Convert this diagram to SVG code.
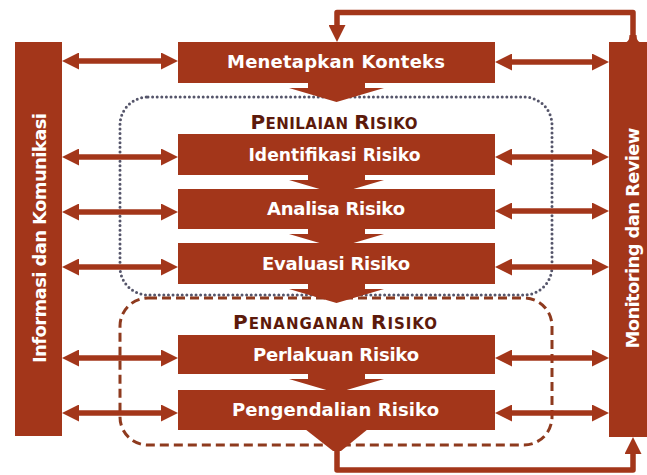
<svg xmlns="http://www.w3.org/2000/svg" width="647" height="475" viewBox="0 0 647 475">
  <defs>
    <style>
      .fill { fill: #A3361A; }
      .box { fill: #A3361A; }
      .lbl { font-family: "DejaVu Sans", "Liberation Sans", sans-serif; font-weight: bold; font-size: 18px; fill: #FFFFFF; text-anchor: middle; }
      .vlbl { font-family: "DejaVu Sans", "Liberation Sans", sans-serif; font-weight: bold; font-size: 18px; fill: #FFFFFF; text-anchor: middle; }
      .head { font-family: "DejaVu Sans", "Liberation Sans", sans-serif; font-weight: bold; fill: #5C1A0B; text-anchor: middle; }
      .big { font-size: 20px; }
      .small { font-size: 15px; }
      .conn { fill: none; stroke: #A3361A; stroke-width: 5.5; }
      .dotted { fill: none; stroke: #55556A; stroke-width: 3; stroke-dasharray: 0 4.6; stroke-linecap: round; }
      .dashed { fill: none; stroke: #8E3A1E; stroke-width: 3; stroke-dasharray: 9 5; }
    </style>
    <marker id="ah" viewBox="0 0 17 17" markerUnits="userSpaceOnUse" markerWidth="17" markerHeight="17" refX="7" refY="8.5" orient="auto-start-reverse">
      <path d="M0,0 L17,8.5 L0,17 Z" fill="#A3361A"/>
    </marker>
  </defs>

  <!-- group boundaries -->
  <g id="group-penilaian">
    <rect class="dotted" x="120" y="97" width="432" height="198" rx="28"/>
    <text class="head" x="334" y="129" textLength="167" lengthAdjust="spacing"><tspan class="big">P</tspan><tspan class="small">ENILAIAN </tspan><tspan class="big">R</tspan><tspan class="small">ISIKO</tspan></text>
  </g>
  <g id="group-penanganan">
    <rect class="dashed" x="120" y="298" width="432" height="147" rx="28"/>
    <text class="head" x="335" y="329" textLength="204" lengthAdjust="spacing"><tspan class="big">P</tspan><tspan class="small">ENANGANAN </tspan><tspan class="big">R</tspan><tspan class="small">ISIKO</tspan></text>
  </g>

  <!-- connectors -->
  <g id="connectors">
    <line class="conn" x1="72" y1="61" x2="168" y2="61" marker-start="url(#ah)" marker-end="url(#ah)"/>
    <line class="conn" x1="72" y1="157" x2="168" y2="157" marker-start="url(#ah)" marker-end="url(#ah)"/>
    <line class="conn" x1="72" y1="212" x2="168" y2="212" marker-start="url(#ah)" marker-end="url(#ah)"/>
    <line class="conn" x1="72" y1="267" x2="168" y2="267" marker-start="url(#ah)" marker-end="url(#ah)"/>
    <line class="conn" x1="72" y1="358" x2="168" y2="358" marker-start="url(#ah)" marker-end="url(#ah)"/>
    <line class="conn" x1="72" y1="413" x2="168" y2="413" marker-start="url(#ah)" marker-end="url(#ah)"/>

    <line class="conn" x1="505" y1="62" x2="599" y2="62" marker-start="url(#ah)" marker-end="url(#ah)"/>
    <line class="conn" x1="505" y1="157" x2="599" y2="157" marker-start="url(#ah)" marker-end="url(#ah)"/>
    <line class="conn" x1="505" y1="211" x2="599" y2="211" marker-start="url(#ah)" marker-end="url(#ah)"/>
    <line class="conn" x1="505" y1="267" x2="599" y2="267" marker-start="url(#ah)" marker-end="url(#ah)"/>
    <line class="conn" x1="505" y1="358" x2="599" y2="358" marker-start="url(#ah)" marker-end="url(#ah)"/>
    <line class="conn" x1="505" y1="413" x2="599" y2="413" marker-start="url(#ah)" marker-end="url(#ah)"/>

    <!-- feedback from monitoring to context -->
    <path class="conn" d="M633,44 V12.5 H337 V32" stroke-linejoin="round" marker-end="url(#ah)"/>
    <path class="fill" d="M623,43 Q629.5,43 629.5,35 L636.5,35 Q636.5,43 643,43 Z"/>
    <!-- from pengendalian to monitoring -->
    <path class="conn" d="M337,448 V470 H633 V447" stroke-linejoin="round" marker-end="url(#ah)"/>
  </g>

  <!-- side bars -->
  <g id="informasi-komunikasi">
    <rect class="box" x="15" y="42" width="47" height="394"/>
    <text class="vlbl" transform="translate(46,238) rotate(-90)" textLength="250" lengthAdjust="spacing">Informasi dan Komunikasi</text>
  </g>
  <g id="monitoring-review">
    <rect class="box" x="609" y="42" width="48" height="395"/>
    <text class="vlbl" transform="translate(639,238) rotate(-90)" textLength="221" lengthAdjust="spacing">Monitoring dan Review</text>
  </g>

  <!-- process boxes -->
  <g id="menetapkan-konteks">
    <polygon class="fill" points="308,82 365,82 365,88 384,88 336.5,102 289,88 308,88"/>
    <rect class="box" x="178" y="42" width="317" height="41"/>
    <text class="lbl" x="336" y="68" textLength="218" lengthAdjust="spacing">Menetapkan Konteks</text>
  </g>
  <g id="identifikasi-risiko">
    <polygon class="fill" points="308,174 365,174 365,180 384,180 336.5,194 289,180 308,180"/>
    <rect class="box" x="178" y="134" width="317" height="41"/>
    <text class="lbl" x="334.5" y="161" textLength="172" lengthAdjust="spacingAndGlyphs">Identifikasi Risiko</text>
  </g>
  <g id="analisa-risiko">
    <polygon class="fill" points="308,228 365,228 365,234 384,234 336.5,248 289,234 308,234"/>
    <rect class="box" x="178" y="189" width="317" height="40"/>
    <text class="lbl" x="336" y="215" textLength="138" lengthAdjust="spacing">Analisa Risiko</text>
  </g>
  <g id="evaluasi-risiko">
    <polygon class="fill" points="308,283 365,283 365,289 384,289 336.5,303 289,289 308,289"/>
    <rect class="box" x="178" y="243" width="317" height="41"/>
    <text class="lbl" x="336" y="270" textLength="148" lengthAdjust="spacing">Evaluasi Risiko</text>
  </g>
  <g id="perlakuan-risiko">
    <polygon class="fill" points="308,373 365,373 365,379 384,379 336.5,393 289,379 308,379"/>
    <rect class="box" x="178" y="335" width="317" height="39"/>
    <text class="lbl" x="336" y="361" textLength="166" lengthAdjust="spacing">Perlakuan Risiko</text>
  </g>
  <g id="pengendalian-risiko">
    <polygon class="fill" points="305,429 368,429 341,451 333,451"/>
    <rect class="box" x="178" y="390" width="317" height="40"/>
    <text class="lbl" x="335.5" y="416" textLength="207" lengthAdjust="spacing">Pengendalian Risiko</text>
  </g>
</svg>
